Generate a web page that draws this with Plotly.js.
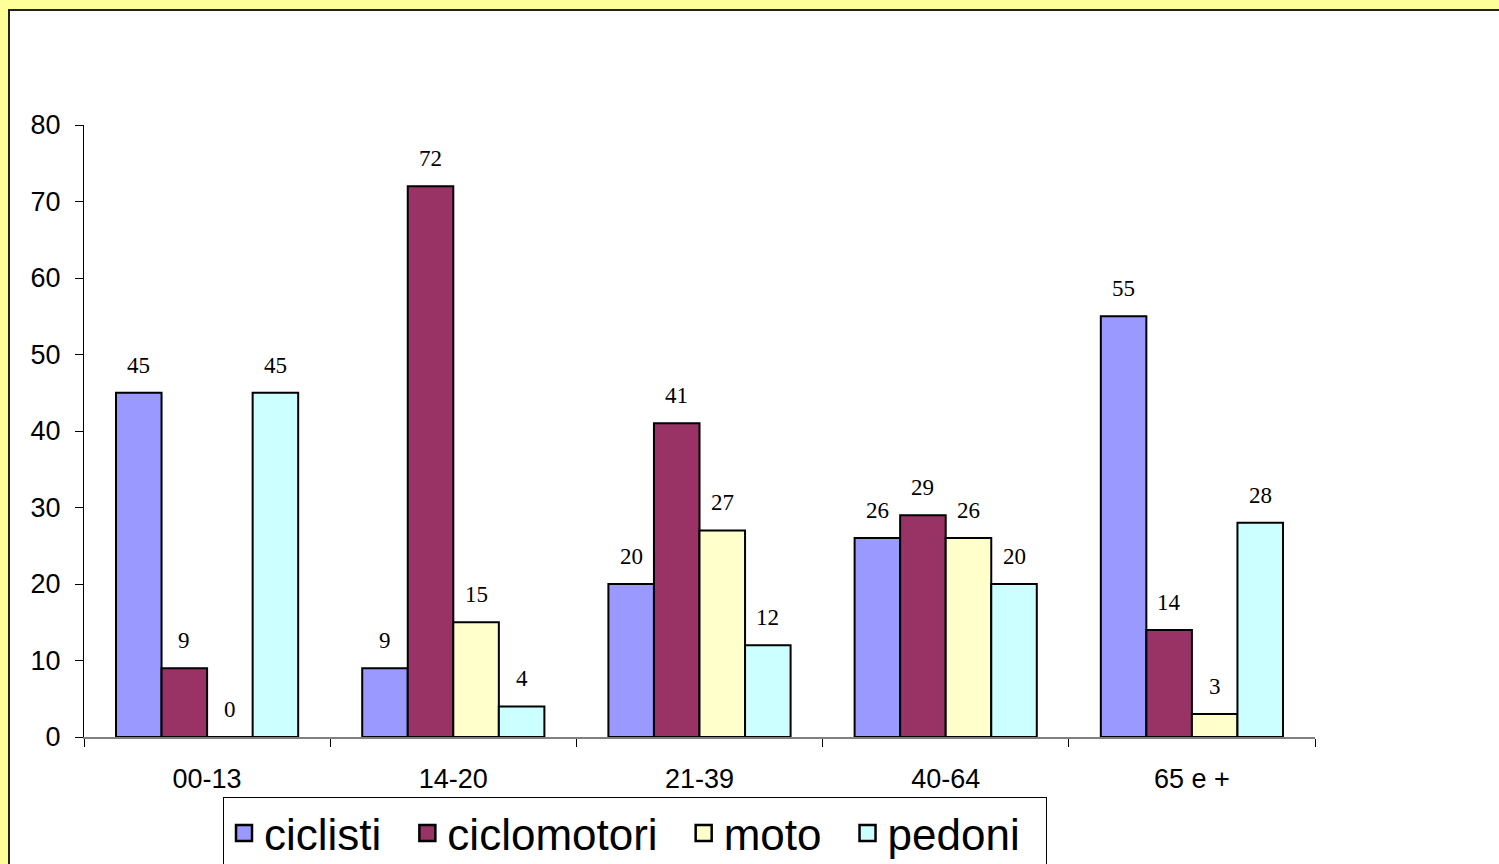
<!DOCTYPE html>
<html><head><meta charset="utf-8">
<script src="https://cdn.plot.ly/plotly-3.0.1.min.js"></script>
<style>
html,body{margin:0;padding:0;width:1499px;height:864px;overflow:hidden;background:#FFFF99;}
#frame{position:absolute;left:8px;top:9px;width:1499px;height:870px;background:#fff;border-left:2px solid #222;border-top:2px solid #222;}
#chart{position:absolute;left:0;top:0;width:1499px;height:864px;}
</style></head>
<body>
<div id="frame"></div>
<div id="chart"></div>
<script>
const categories = ["00-13","14-20","21-39","40-64","65 e +"];
const ciclisti    = [45, 9, 20, 26, 55];
const ciclomotori = [9, 72, 41, 29, 14];
const moto        = [0, 15, 27, 26, 3];
const pedoni      = [45, 4, 12, 20, 28];
const seriesNames = ["ciclisti","ciclomotori","moto","pedoni"];
const seriesData  = [ciclisti, ciclomotori, moto, pedoni];
const colors = ["#9999FF","#993366","#FFFFCC","#CCFFFF"];

const bargap = 0.26;
const traces = seriesData.map((vals,i)=>({
  type:'bar', name:seriesNames[i], x:categories, y:vals,
  marker:{color:colors[i], line:{color:'#000', width:2}},
  hoverinfo:'none', showlegend:false
}));
// legend entries with square symbols (extra trailing space widens entries)
seriesNames.forEach((n,i)=>{
  traces.push({
    type:'scatter', mode:'markers', name:n + '\u00a0\u2009', x:[null], y:[null],
    marker:{symbol:'square', size:16, color:colors[i], line:{color:'#000', width:2.5}},
    showlegend:true, hoverinfo:'none'
  });
});

const nS = seriesData.length;
const bw = (1-bargap)/nS;
const annotations = [];
seriesData.forEach((vals,i)=>{
  vals.forEach((v,j)=>{
    annotations.push({
      xref:'x', yref:'y', x: j - (1-bargap)/2 + bw*(i+0.5), y: v,
      text:String(v), showarrow:false, yanchor:'bottom', yshift:13,
      font:{family:'"Liberation Serif", "Times New Roman", serif', size:23, color:'#000'}
    });
  });
});

const layout = {
  width:1499, height:864,
  paper_bgcolor:'rgba(0,0,0,0)', plot_bgcolor:'rgba(0,0,0,0)',
  margin:{l:84, r:184, t:125, b:127, autoexpand:false},
  barmode:'group', bargap:bargap, bargroupgap:0,
  showlegend:true,
  font:{family:'"Liberation Sans", Arial, sans-serif', color:'#000'},
  xaxis:{
    type:'category', tickson:'boundaries', ticks:'outside', ticklen:8, tickcolor:'#000', tickwidth:1,
    showline:true, linecolor:'#808080', linewidth:2, showgrid:false, zeroline:false,
    tickfont:{size:27, family:'"Liberation Sans", Arial, sans-serif'}, ticklabelstandoff:17,
    automargin:false, fixedrange:true
  },
  yaxis:{
    range:[0,80], dtick:10, ticks:'outside', ticklen:8, tickcolor:'#000', tickwidth:1,
    showline:true, linecolor:'#000', linewidth:1, showgrid:false, zeroline:false,
    tickfont:{size:27, family:'"Liberation Sans", Arial, sans-serif'}, ticklabelstandoff:9,
    automargin:false, fixedrange:true
  },
  legend:{
    orientation:'h', x:223/1499, xanchor:'left', xref:'container', y:(864-797)/864, yanchor:'top', yref:'container',
    bgcolor:'#fff', bordercolor:'#000', borderwidth:1,
    font:{size:44, family:'"Liberation Sans", Arial, sans-serif', color:'#000'},
    itemsizing:'trace'
  },
  annotations:annotations
};
Plotly.newPlot('chart', traces, layout, {displayModeBar:false, staticPlot:true});
</script>
</body></html>
